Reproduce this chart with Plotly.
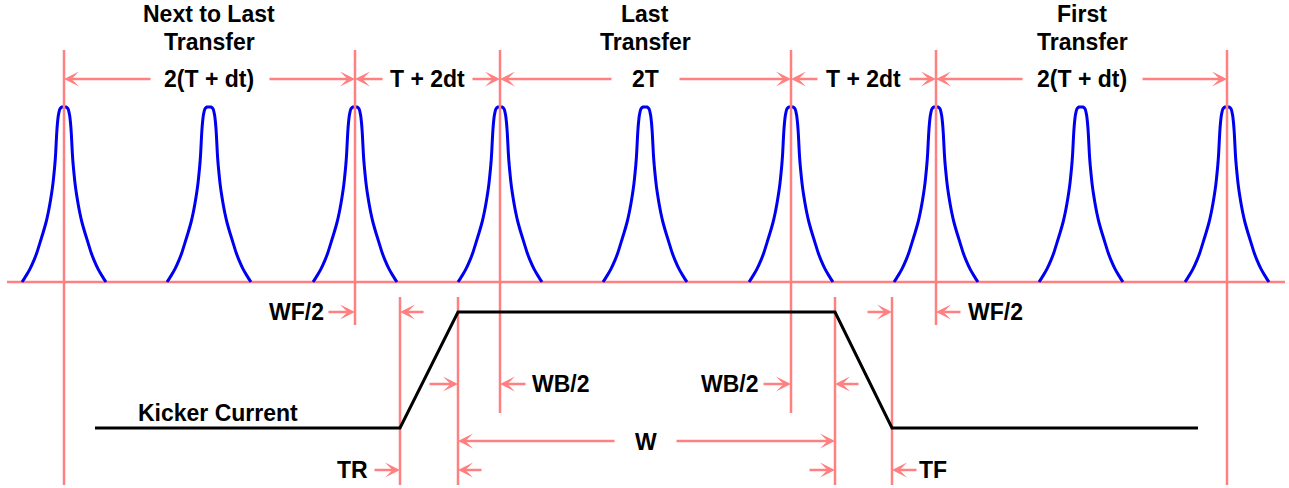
import plotly.graph_objects as go

# ---------------- data (diagram coordinates, px-like units) ----------------
bunch_centers = [64, 209, 355, 500, 645, 791, 936, 1081, 1227]
# half bunch profile (offset from centre, normalised height), mirrored for right side
profile_dx = [-42, -38, -34, -30, -27, -24, -21, -18, -16, -14, -12.3, -11, -10, -9, -8.3, -7.3, -6.5, -5.7, -4, -2, 0]
profile_h = [0.0, 0.035, 0.075, 0.125, 0.17, 0.225, 0.28, 0.34, 0.39, 0.45, 0.51, 0.565, 0.62, 0.68, 0.74, 0.85, 0.91, 0.95, 0.99, 1.0, 1.0]
baseline_y = 282
peak_height = 175
baseline_x = [7, 1285]

# marker lines: x, top y, bottom y
marker_x = [64, 355, 500, 791, 936, 1227, 400, 458, 835, 892]
marker_top = [50, 50, 50, 50, 50, 50, 297, 297, 297, 297]
marker_bottom = [485, 325, 413, 413, 325, 485, 485, 485, 485, 485]

# kicker current waveform
kicker_x = [95, 400, 458, 835, 892, 1198]
kicker_y = [428, 428, 312, 312, 428, 428]

# dimension arrows: (head x, tail x, y)
arrow_head_x = [64, 355, 355, 500, 500, 791, 791, 936, 936, 1227,
                355, 400, 892, 936,
                458, 500, 791, 835,
                458, 835,
                400, 458, 835, 892]
arrow_tail_x = [152, 268, 384, 471, 613, 678, 819, 908, 1024, 1141,
                327, 425, 866, 962,
                428, 527, 762, 860,
                616, 675,
                373, 483, 808, 918]
arrow_y = [79] * 10 + [312] * 4 + [384] * 4 + [441] * 2 + [470] * 4

# labels
label_text = ["Next to Last", "Transfer", "Last", "Transfer", "First", "Transfer",
              "2(T + dt)", "T + 2dt", "2T", "T + 2dt", "2(T + dt)",
              "WF/2", "WF/2", "WB/2", "WB/2", "W", "TR", "TF", "Kicker Current"]
label_x = [209, 209, 645, 645, 1082, 1082,
           209, 427, 645, 863, 1082,
           296, 995, 561, 730, 646, 352, 933, 218]
label_y = [14, 42, 14, 42, 14, 42,
           79, 79, 79, 79, 79,
           312, 312, 384, 384, 442, 470, 470, 413]

PINK = "#FF8080"
BLUE = "#0000F0"
W_PX, H_PX = 1289, 488

fig = go.Figure()

# baseline
fig.add_trace(go.Scatter(x=baseline_x, y=[baseline_y, baseline_y], mode="lines",
                         line=dict(color=PINK, width=2.5), hoverinfo="skip"))

# bunches
right_dx = [-d for d in reversed(profile_dx[:-1])]
right_h = list(reversed(profile_h[:-1]))
full_dx = profile_dx + right_dx
full_h = profile_h + right_h
for c in bunch_centers:
    fig.add_trace(go.Scatter(
        x=[c + d for d in full_dx],
        y=[baseline_y - h * peak_height for h in full_h],
        mode="lines", line=dict(color=BLUE, width=3, shape="spline", smoothing=0.6),
        hoverinfo="skip"))

# marker lines
mx, my = [], []
for x, t, b in zip(marker_x, marker_top, marker_bottom):
    mx += [x, x, None]
    my += [t, b, None]
fig.add_trace(go.Scatter(x=mx, y=my, mode="lines", line=dict(color=PINK, width=2.5),
                         hoverinfo="skip"))

# kicker current
fig.add_trace(go.Scatter(x=kicker_x, y=kicker_y, mode="lines",
                         line=dict(color="black", width=3), hoverinfo="skip"))

annotations = []
for hx, tx, y in zip(arrow_head_x, arrow_tail_x, arrow_y):
    annotations.append(dict(x=hx, y=y, ax=tx, ay=y, xref="x", yref="y",
                            axref="x", ayref="y", text="", showarrow=True,
                            arrowhead=3, arrowsize=1.0, arrowwidth=2.5,
                            arrowcolor=PINK, standoff=0, startstandoff=0))
for t, x, y in zip(label_text, label_x, label_y):
    annotations.append(dict(x=x, y=y, xref="x", yref="y", text="<b>" + t + "</b>",
                            showarrow=False, xanchor="center", yanchor="middle",
                            font=dict(family="Liberation Sans, Arial, sans-serif",
                                      size=23, color="black")))

fig.update_layout(
    width=W_PX, height=H_PX,
    margin=dict(l=0, r=0, t=0, b=0),
    paper_bgcolor="white", plot_bgcolor="white",
    showlegend=False,
    xaxis=dict(range=[0, W_PX], visible=False, fixedrange=True),
    yaxis=dict(range=[H_PX, 0], visible=False, fixedrange=True),
    annotations=annotations,
)

fig.write_html("out.html",
               config={"displayModeBar": False, "staticPlot": True},
               post_script="document.body.style.margin='0';document.body.style.overflow='hidden';")
